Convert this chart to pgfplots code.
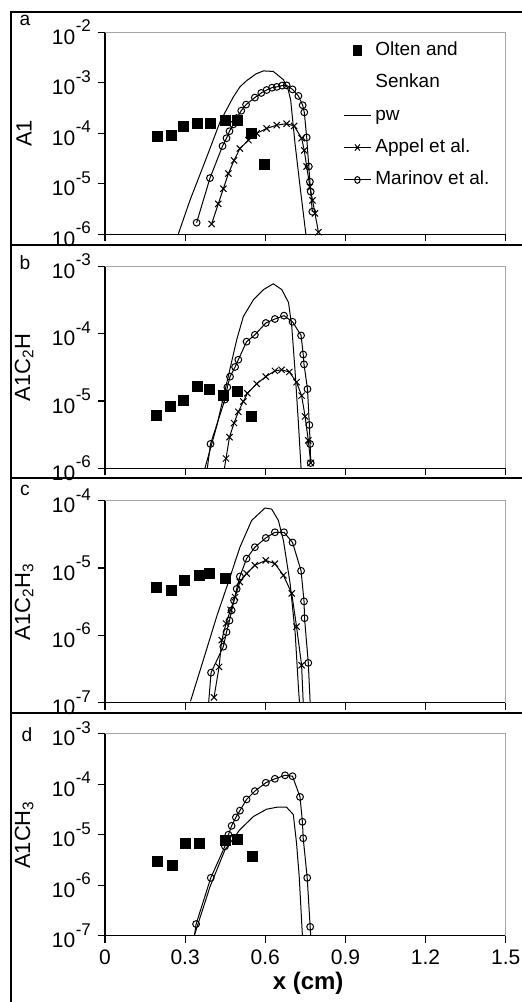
\documentclass[border=0pt]{standalone}
\usepackage{fontspec}
\setmainfont{Liberation Sans}
\usepackage{pgfplots}
\pgfplotsset{compat=1.18}

% tick label like 10^-4, set in the text font, exponent raised high
\newcommand\pten[1]{10\kern0.3pt\raisebox{0.6em}{\fontsize{8.5}{9}\selectfont -#1}}

\begin{document}
\begin{tikzpicture}

% ---------------- panel a: A1
\begin{axis}[scale only axis, width=200.35pt, height=101pt,
  anchor=south west, at={(52.5pt,-117.15pt)},
  xmin=0, xmax=1.5, ymode=log, yminorticks=false,
  ymin=1e-6, ymax=1e-2,
  axis x line*=bottom, axis y line*=left,
  axis line style={black, line width=0.6pt},
  tick align=outside, major tick length=3.5pt,
  tick style={black, line width=0.6pt},
  xtick={0,0.3,0.6,0.9,1.2,1.5}, xticklabels={},
  ytick={1e-6,1e-5,1e-4,1e-3,1e-2},
  yticklabels={\pten6,\pten5,\pten4,\pten3,\pten2},
  ticklabel style={font=\fontsize{10.5}{12}\selectfont},
  ylabel={A1},
  ylabel style={at={(axis description cs:-0.202,0.5)}, anchor=center,
    font=\fontsize{11}{13}\selectfont},
  extra description/.code={
    \draw[gray!70, line width=0.6pt] (rel axis cs:0,1) -- (rel axis cs:1,1) -- (rel axis cs:1,0);},
  legend image post style={xscale=0.79},
  legend style={at={(rel axis cs:0.594,0.982)}, anchor=north west, draw=none, fill=none,
    inner sep=0pt, row sep=2.2pt, font=\fontsize{9.5}{11}\selectfont,
    nodes={text height=7pt, text depth=2pt, inner ysep=2.5pt}},
  legend cell align=left]
\addplot[only marks, mark=square*, mark size=2.5pt, black] coordinates {
  (0.196,8.5e-5) (0.247,9e-5) (0.294,1.35e-4) (0.347,1.6e-4) (0.395,1.6e-4)
  (0.45,1.8e-4) (0.497,1.8e-4) (0.548,1.0e-4) (0.598,2.4e-5)};
\addlegendentry{Olten and}
\addlegendimage{empty legend}
\addlegendentry{Senkan}
\addplot[no marks, black, line width=0.5pt] coordinates {
  (0.274,1e-6) (0.318,4.7e-6) (0.381,3.4e-5) (0.431,1.7e-4) (0.48,5.2e-4)
  (0.505,8.3e-4) (0.53,1.1e-3) (0.565,1.5e-3) (0.593,1.72e-3) (0.63,1.68e-3)
  (0.668,1.15e-3) (0.685,7.5e-4) (0.695,4.6e-4) (0.711,6.5e-5) (0.73,9e-6)
  (0.752,1e-6)};
\addlegendentry{pw}
\addplot[black, line width=0.5pt, mark=x, mark size=2.2pt] coordinates {
  (0.399,1.6e-6) (0.424,4e-6) (0.443,8e-6) (0.462,1.6e-5) (0.483,2.9e-5)
  (0.505,5e-5) (0.537,7.3e-5) (0.568,1e-4) (0.605,1.25e-4) (0.643,1.45e-4)
  (0.68,1.55e-4) (0.708,1.4e-4) (0.736,8e-5) (0.746,4.6e-5) (0.755,2.2e-5)
  (0.767,8.7e-6) (0.777,4.7e-6) (0.786,2.6e-6) (0.799,1.1e-6)};
\addlegendentry{Appel et al.}
\addplot[black, line width=0.5pt, mark=o, mark size=1.7pt] coordinates {
  (0.343,1.7e-6) (0.393,1.3e-5) (0.44,5.6e-5) (0.455,8e-5) (0.466,1.1e-4)
  (0.48,1.5e-4) (0.493,2e-4) (0.51,2.8e-4) (0.528,3.7e-4) (0.561,5.1e-4)
  (0.585,6.3e-4) (0.605,7.2e-4) (0.625,8e-4) (0.643,8.3e-4) (0.663,8.8e-4)
  (0.68,8.9e-4) (0.702,7.4e-4) (0.724,5.5e-4) (0.74,3.6e-4) (0.746,2.6e-4)
  (0.755,8.3e-5) (0.763,2.2e-5) (0.767,1.1e-5) (0.77,7e-6) (0.776,2.8e-6)};
\addlegendentry{Marinov et al.}
\end{axis}

% ---------------- panel b: A1C2H
\begin{axis}[scale only axis, width=200.35pt, height=101pt,
  anchor=south west, at={(52.5pt,-234.15pt)},
  xmin=0, xmax=1.5, ymode=log, yminorticks=false,
  ymin=1e-6, ymax=1e-3,
  axis x line*=bottom, axis y line*=left,
  axis line style={black, line width=0.6pt},
  tick align=outside, major tick length=3.5pt,
  tick style={black, line width=0.6pt},
  xtick={0,0.3,0.6,0.9,1.2,1.5}, xticklabels={},
  ytick={1e-6,1e-5,1e-4,1e-3},
  yticklabels={\pten6,\pten5,\pten4,\pten3},
  ticklabel style={font=\fontsize{10.5}{12}\selectfont},
  ylabel={A1C\textsubscript{2}H},
  ylabel style={at={(axis description cs:-0.202,0.5)}, anchor=center,
    font=\fontsize{11}{13}\selectfont},
  extra description/.code={
    \draw[gray!70, line width=0.6pt] (rel axis cs:0,1) -- (rel axis cs:1,1) -- (rel axis cs:1,0);}]
\addplot[only marks, mark=square*, mark size=2.5pt, black] coordinates {
  (0.193,6.2e-6) (0.243,8.3e-6) (0.293,1.02e-5) (0.346,1.63e-5) (0.39,1.5e-5)
  (0.443,1.2e-5) (0.495,1.4e-5) (0.547,5.9e-6)};
\addplot[no marks, black, line width=0.5pt] coordinates {
  (0.374,1e-6) (0.418,4.2e-6) (0.455,1.8e-5) (0.493,8.1e-5) (0.518,1.8e-4)
  (0.556,3.2e-4) (0.593,4.5e-4) (0.63,5.5e-4) (0.662,4.5e-4) (0.687,2.9e-4)
  (0.699,1.3e-4) (0.712,2.6e-5) (0.724,4.7e-6) (0.734,1e-6)};
\addplot[black, line width=0.5pt, mark=x, mark size=2.2pt] coordinates {
  (0.453,1.4e-6) (0.466,2.9e-6) (0.483,4.7e-6) (0.499,6.9e-6) (0.518,9.8e-6)
  (0.533,1.3e-5) (0.568,1.8e-5) (0.602,2.3e-5) (0.636,2.8e-5) (0.661,2.9e-5)
  (0.69,2.7e-5) (0.717,1.9e-5) (0.736,1.2e-5) (0.749,5.9e-6) (0.761,2.6e-6)
  (0.77,1.2e-6)};
\addplot[no marks, black, line width=0.5pt] coordinates {(0.447,1e-6) (0.453,1.4e-6)};
\addplot[black, line width=0.5pt, mark=o, mark size=1.7pt] coordinates {
  (0.395,2.3e-6) (0.449,1.05e-5) (0.458,1.6e-5) (0.468,2.3e-5) (0.487,3.2e-5)
  (0.499,4.1e-5) (0.53,7.6e-5) (0.561,9.6e-5) (0.602,1.44e-4) (0.636,1.65e-4)
  (0.67,1.85e-4) (0.702,1.5e-4) (0.734,9.4e-5) (0.742,4.9e-5) (0.745,3.5e-5)
  (0.758,1.5e-5) (0.765,4.4e-6) (0.768,2.3e-6) (0.77,1.2e-6)};
\addplot[no marks, black, line width=0.5pt] coordinates {(0.383,1e-6) (0.395,2.3e-6)};
\end{axis}

% ---------------- panel c: A1C2H3
\begin{axis}[scale only axis, width=200.35pt, height=101pt,
  anchor=south west, at={(52.5pt,-351.35pt)},
  xmin=0, xmax=1.5, ymode=log, yminorticks=false,
  ymin=1e-7, ymax=1e-4,
  axis x line*=bottom, axis y line*=left,
  axis line style={black, line width=0.6pt},
  tick align=outside, major tick length=3.5pt,
  tick style={black, line width=0.6pt},
  xtick={0,0.3,0.6,0.9,1.2,1.5}, xticklabels={},
  ytick={1e-7,1e-6,1e-5,1e-4},
  yticklabels={\pten7,\pten6,\pten5,\pten4},
  ticklabel style={font=\fontsize{10.5}{12}\selectfont},
  ylabel={A1C\textsubscript{2}H\textsubscript{3}},
  ylabel style={at={(axis description cs:-0.202,0.5)}, anchor=center,
    font=\fontsize{11}{13}\selectfont},
  extra description/.code={
    \draw[gray!70, line width=0.6pt] (rel axis cs:0,1) -- (rel axis cs:1,1) -- (rel axis cs:1,0);}]
\addplot[only marks, mark=square*, mark size=2.5pt, black] coordinates {
  (0.193,5.1e-6) (0.247,4.6e-6) (0.297,6.6e-6) (0.352,7.8e-6) (0.39,8.2e-6)
  (0.449,7.1e-6)};
\addplot[no marks, black, line width=0.5pt] coordinates {
  (0.32,1.05e-7) (0.368,4.3e-7) (0.418,1.9e-6) (0.462,6.2e-6) (0.505,2.04e-5)
  (0.549,5.1e-5) (0.599,7.8e-5) (0.624,7.5e-5) (0.649,5.1e-5) (0.668,2.55e-5)
  (0.693,5.9e-6) (0.712,1.07e-6) (0.724,1.7e-7) (0.728,1e-7)};
\addplot[black, line width=0.5pt, mark=x, mark size=2.2pt] coordinates {
  (0.408,1.2e-7) (0.427,3.4e-7) (0.437,8.5e-7) (0.453,1.5e-6) (0.47,2.4e-6)
  (0.487,3.7e-6) (0.505,6.2e-6) (0.53,8.3e-6) (0.561,1.1e-5) (0.602,1.3e-5)
  (0.636,1.16e-5) (0.668,7.8e-6) (0.699,4.2e-6) (0.717,1.35e-6) (0.736,3.6e-7)};
\addplot[no marks, black, line width=0.5pt] coordinates {(0.736,3.6e-7) (0.742,1e-7)};
\addplot[black, line width=0.5pt, mark=o, mark size=1.7pt] coordinates {
  (0.397,2.8e-7) (0.443,6.8e-7) (0.455,1.12e-6) (0.466,1.66e-6) (0.474,2.35e-6)
  (0.483,3.3e-6) (0.493,4.9e-6) (0.505,7.5e-6) (0.53,1.38e-5) (0.561,2.04e-5)
  (0.602,2.8e-5) (0.636,3.4e-5) (0.67,3.4e-5) (0.702,2.4e-5) (0.734,9.1e-6)
  (0.745,3.2e-6) (0.747,1.8e-6) (0.761,3.9e-7)};
\addplot[no marks, black, line width=0.5pt] coordinates {(0.761,3.9e-7) (0.768,1e-7)};
\addplot[no marks, black, line width=0.5pt] coordinates {(0.388,1e-7) (0.397,2.8e-7)};
\end{axis}

% ---------------- panel d: A1CH3
\begin{axis}[scale only axis, width=200.35pt, height=101pt,
  anchor=south west, at={(52.5pt,-467.85pt)},
  xmin=0, xmax=1.5, ymode=log, yminorticks=false,
  ymin=1e-7, ymax=1e-3,
  axis x line*=bottom, axis y line*=left,
  axis line style={black, line width=0.6pt},
  tick align=outside, major tick length=3.5pt,
  tick style={black, line width=0.6pt},
  xtick={0,0.3,0.6,0.9,1.2,1.5},
  xticklabels={0,0.3,0.6,0.9,1.2,1.5},
  ytick={1e-7,1e-6,1e-5,1e-4,1e-3},
  yticklabels={\pten7,\pten6,\pten5,\pten4,\pten3},
  ticklabel style={font=\fontsize{10.5}{12}\selectfont},
  ylabel={A1CH\textsubscript{3}},
  ylabel style={at={(axis description cs:-0.202,0.5)}, anchor=center,
    font=\fontsize{11}{13}\selectfont},
  xlabel={\textbf{x (cm)}},
  xlabel style={at={(axis description cs:0.507,-0.235)}, anchor=center,
    font=\fontsize{12}{14}\selectfont},
  extra description/.code={
    \draw[gray!70, line width=0.6pt] (rel axis cs:0,1) -- (rel axis cs:1,1) -- (rel axis cs:1,0);}]
\addplot[only marks, mark=square*, mark size=2.5pt, black] coordinates {
  (0.196,3.0e-6) (0.252,2.5e-6) (0.3,6.6e-6) (0.352,6.6e-6) (0.449,7.6e-6)
  (0.495,8.1e-6) (0.551,3.8e-6)};
\addplot[no marks, black, line width=0.5pt] coordinates {
  (0.334,1e-7) (0.393,9.3e-7) (0.449,5e-6) (0.505,1.26e-5) (0.556,2.3e-5)
  (0.605,3.2e-5) (0.643,3.5e-5) (0.68,3.5e-5) (0.705,2.5e-5) (0.717,6.8e-6)
  (0.727,1.5e-6) (0.739,1e-7)};
\addplot[black, line width=0.5pt, mark=o, mark size=1.7pt] coordinates {
  (0.341,1.7e-7) (0.396,1.4e-6) (0.449,5.9e-6) (0.462,1e-5)
  (0.474,1.5e-5) (0.49,2.2e-5) (0.505,3e-5) (0.53,5e-5) (0.561,7.3e-5)
  (0.602,1.07e-4) (0.636,1.28e-4) (0.674,1.5e-4) (0.702,1.44e-4) (0.73,5.6e-5)
  (0.739,1.8e-5) (0.742,8.5e-6) (0.757,1.4e-6) (0.768,1.5e-7)};
\addplot[no marks, black, line width=0.5pt] coordinates {(0.335,1e-7) (0.341,1.7e-7)};
\addplot[no marks, black, line width=0.5pt] coordinates {(0.768,1.5e-7) (0.77,1e-7)};
\end{axis}

% panel letters
\node[font=\fontsize{9.6}{11}\selectfont] at (12.5pt,-10pt) {a};
\node[font=\fontsize{9.6}{11}\selectfont] at (12.5pt,-131.5pt) {b};
\node[font=\fontsize{9.6}{11}\selectfont] at (12.5pt,-245pt) {c};
\node[font=\fontsize{9.6}{11}\selectfont] at (13.5pt,-367.5pt) {d};

% outer frame and panel separators
\draw[line width=0.8pt] (5.5pt,-501pt) -- (5.5pt,-6pt) -- (262pt,-6pt);
\draw[line width=0.8pt] (5.5pt,-122.5pt) -- (262pt,-122.5pt);
\draw[line width=0.8pt] (5.5pt,-239pt) -- (262pt,-239pt);
\draw[line width=0.8pt] (5.5pt,-356.5pt) -- (262pt,-356.5pt);

\pgfresetboundingbox
\useasboundingbox (0pt,0pt) rectangle (261pt,-501pt);
\end{tikzpicture}
\end{document}
